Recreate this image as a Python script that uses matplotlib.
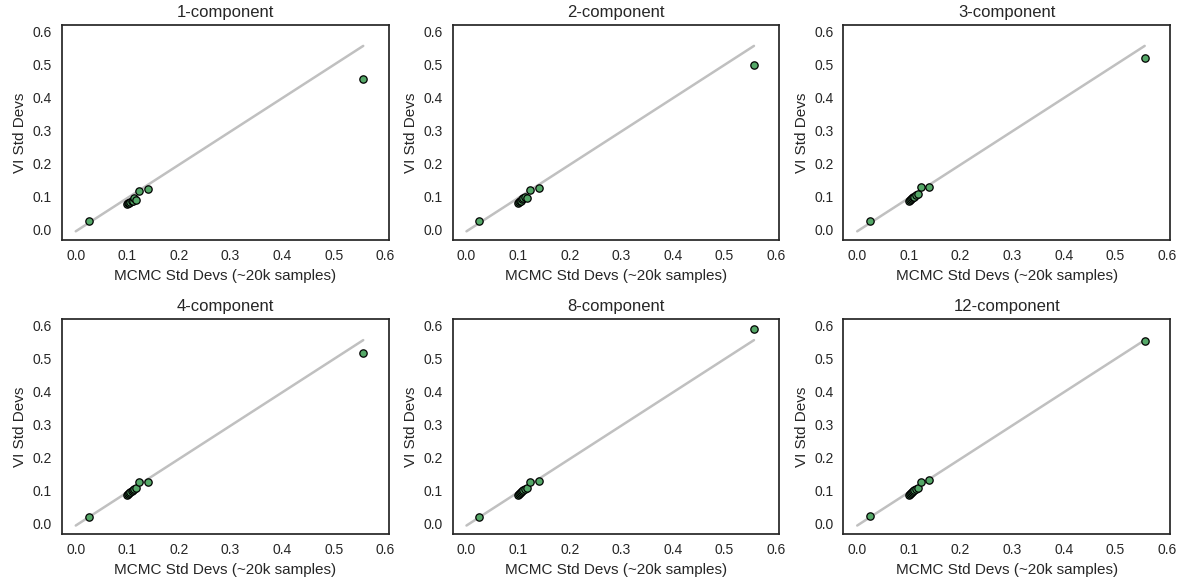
import numpy as np
import matplotlib.pyplot as plt
import seaborn as sns

sns.set_style("white")
plt.rcParams['font.family'] = ['Liberation Sans', 'DejaVu Sans']

titles = ["1-component", "2-component", "3-component",
          "4-component", "8-component", "12-component"]

mcmc_sd = [0.025, 0.100, 0.102, 0.104, 0.106, 0.108, 0.110, 0.113, 0.117, 0.123, 0.140, 0.557]

vi_sd_1 = [0.025, 0.078, 0.080, 0.082, 0.084, 0.086, 0.088, 0.095, 0.090, 0.118, 0.122, 0.458]
vi_sd_2 = [0.025, 0.082, 0.084, 0.086, 0.088, 0.092, 0.095, 0.098, 0.097, 0.120, 0.125, 0.500]
vi_sd_3 = [0.025, 0.088, 0.090, 0.092, 0.095, 0.098, 0.100, 0.104, 0.108, 0.128, 0.130, 0.520]
vi_sd_4 = [0.022, 0.088, 0.090, 0.093, 0.096, 0.099, 0.102, 0.106, 0.108, 0.127, 0.128, 0.517]
vi_sd_8 = [0.022, 0.088, 0.090, 0.093, 0.096, 0.099, 0.102, 0.106, 0.110, 0.127, 0.130, 0.592]
vi_sd_12 = [0.023, 0.088, 0.090, 0.093, 0.096, 0.099, 0.102, 0.106, 0.110, 0.128, 0.132, 0.553]

vi_all = [vi_sd_1, vi_sd_2, vi_sd_3, vi_sd_4, vi_sd_8, vi_sd_12]

fig, axes = plt.subplots(2, 3, figsize=(11.89, 5.84), dpi=100)
x = np.array(mcmc_sd)
for ax, title, vi in zip(axes.flat, titles, vi_all):
    # identity line
    ax.plot([0, x.max()], [-0.005, x.max()], color="#c0c0c0", lw=1.8, zorder=1)
    ax.scatter(x, vi, s=28, color="#55a868", edgecolor="black", linewidth=0.9, zorder=2)
    ax.set_title(title, fontsize=12)
    ax.set_xlabel("MCMC Std Devs (~20k samples)", fontsize=11)
    ax.set_ylabel("VI Std Devs", fontsize=11)
    ax.set_xlim(-0.027, 0.606)
    ax.set_ylim(-0.03, 0.62)
    ax.set_xticks(np.arange(0, 0.61, 0.1))
    ax.set_yticks(np.arange(0, 0.61, 0.1))
    ax.tick_params(labelsize=10)
    for s in ax.spines.values():
        s.set_color("#262626")
        s.set_linewidth(1.25)

plt.subplots_adjust(left=0.052, right=0.984, top=0.957, bottom=0.086,
                    wspace=0.196, hspace=0.372)
plt.savefig("out.png")
